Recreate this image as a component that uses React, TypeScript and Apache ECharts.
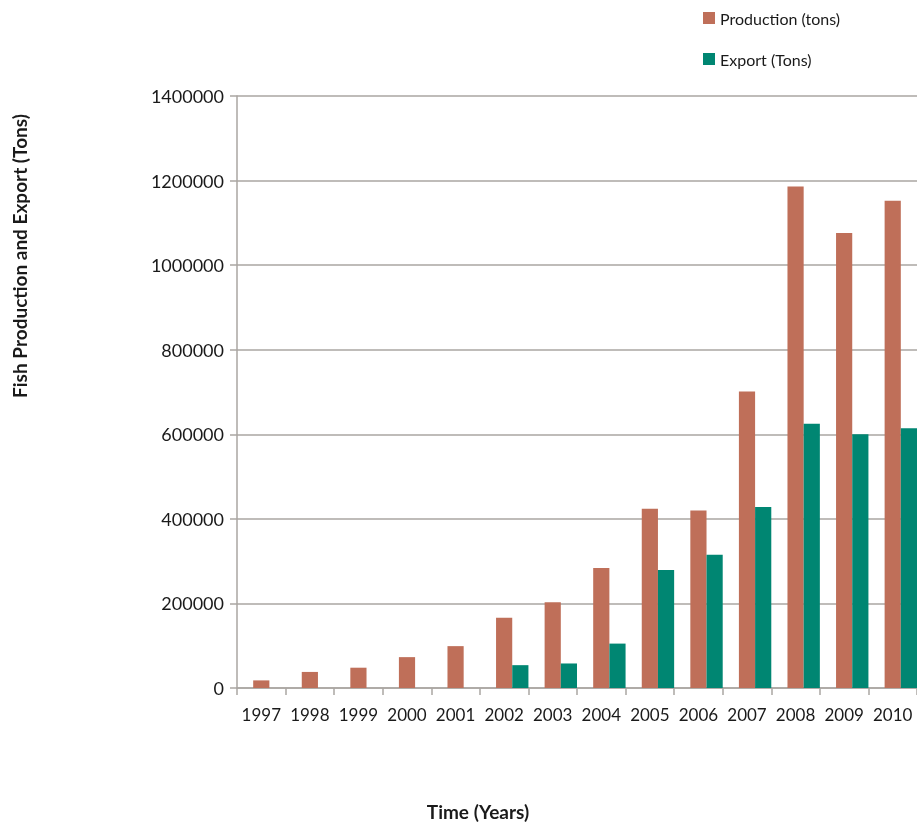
import React, { useEffect, useRef } from "react";
import * as echarts from "echarts";

const years = ["1997", "1998", "1999", "2000", "2001", "2002", "2003", "2004", "2005", "2006", "2007", "2008", "2009", "2010"];
const production = [18000, 38000, 48000, 73000, 99000, 166000, 203000, 284000, 424000, 420000, 701000, 1186000, 1076000, 1152000];
const exportTons = [null, null, null, null, null, 54000, 58000, 105000, 279000, 315000, 428000, 625000, 600000, 614000];
const yTicks = { min: 0, max: 1400000, interval: 200000 };

const FONT = "Lato";
const TEXT = "#1a1a1a";
const GRID = "#aaa6a2";
const PROD_COLOR = "#bf6f59";
const EXP_COLOR = "#008672";

export default function App() {
  const ref = useRef<HTMLDivElement>(null);
  useEffect(() => {
    const chart = echarts.init(ref.current!, null, { renderer: "svg" });
    chart.setOption({
      animation: false,
      textStyle: { fontFamily: FONT },
      grid: { left: 237, right: -2, top: 96, bottom: 135, containLabel: false },
      legend: [
        {
          data: ["Production (tons)"],
          left: 698,
          top: 5,
          icon: "rect",
          itemWidth: 12,
          itemHeight: 12,
          textStyle: { fontFamily: FONT, fontSize: 16, color: TEXT },
        },
        {
          data: ["Export (Tons)"],
          left: 698,
          top: 46,
          icon: "rect",
          itemWidth: 12,
          itemHeight: 12,
          textStyle: { fontFamily: FONT, fontSize: 16, color: TEXT },
        },
      ],
      xAxis: {
        type: "category",
        data: years,
        boundaryGap: true,
        axisLine: { lineStyle: { color: GRID, width: 1.5 } },
        axisTick: { show: true, length: 7, lineStyle: { color: GRID, width: 1.5 } },
        axisLabel: { color: TEXT, fontSize: 17, fontFamily: FONT, margin: 18, interval: 0 },
      },
      yAxis: {
        type: "value",
        min: yTicks.min,
        max: yTicks.max,
        interval: yTicks.interval,
        axisLine: { show: true, lineStyle: { color: GRID, width: 1.5 } },
        axisTick: { show: true, length: 7, lineStyle: { color: GRID, width: 1.5 } },
        axisLabel: {
          color: TEXT,
          fontSize: 18,
          fontFamily: FONT,
          margin: 13,
          formatter: (v: number) => String(v),
        },
        splitLine: { show: true, lineStyle: { color: GRID, width: 1.5 } },
      },
      series: [
        { type: "bar", name: "_pad", data: [], barGap: "0%", barCategoryGap: "0%" },
        {
          type: "bar",
          name: "Production (tons)",
          data: production,
          itemStyle: { color: PROD_COLOR },
          barGap: "0%",
          barCategoryGap: "0%",
        },
        {
          type: "bar",
          name: "Export (Tons)",
          data: exportTons,
          itemStyle: { color: EXP_COLOR },
          barGap: "0%",
          barCategoryGap: "0%",
        },
      ],
      graphic: [
        {
          type: "text",
          x: 19,
          y: 256,
          rotation: Math.PI / 2,
          style: {
            text: "Fish Production and Export (Tons)",
            fontFamily: FONT,
            fontSize: 19,
            fontWeight: "bold",
            fill: TEXT,
            align: "center",
            verticalAlign: "middle",
          },
        },
        {
          type: "text",
          x: 478,
          y: 811,
          style: {
            text: "Time (Years)",
            fontFamily: FONT,
            fontSize: 19,
            fontWeight: "bold",
            fill: TEXT,
            align: "center",
            verticalAlign: "middle",
          },
        },
      ],
    });
    return () => chart.dispose();
  }, []);
  return <div ref={ref} style={{ position: "fixed", left: 0, top: 0, width: 917, height: 823 }} />;
}
